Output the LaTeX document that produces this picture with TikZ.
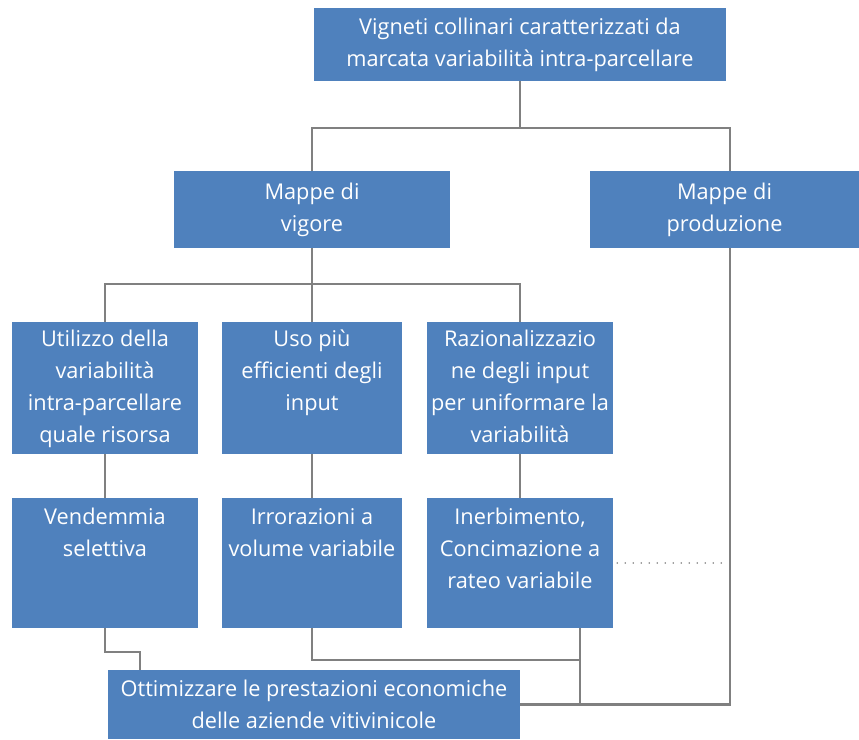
\documentclass[tikz,border=0pt]{standalone}
\usepackage{fontspec}
\setmainfont{Open Sans}
\usepackage{tikz}
\usetikzlibrary{positioning}

\definecolor{boxblue}{HTML}{4F81BD}
\definecolor{linegray}{HTML}{808080}

% testo allineato in alto nelle caselle
\newcommand{\righe}[1]{\begin{tabular}[t]{@{}c@{}}#1\end{tabular}}

\begin{document}
\begin{tikzpicture}[x=0.75pt, y=-0.75pt,
        box/.style={fill=boxblue, text=white, font=\fontsize{16.3}{24}\selectfont, inner sep=0pt},
        titolo/.style={box, align=center},
        azione/.style={box, inner ysep=3pt, text height=15.5pt, text depth=77.5pt},
        intervento/.style={box, inner ysep=3pt, text height=17pt, text depth=74.5pt},
        link/.style={draw=linegray, line width=2pt},
        puntini/.style={draw=linegray, line width=1.3pt, dash pattern=on 0pt off 6pt, line cap=round}]
        \useasboundingbox (0,0) rectangle (859,739);

        % Nodes
        \node[titolo, minimum width=309pt, minimum height=54.75pt] (top) at (520,44.5) {Vigneti collinari caratterizzati da\\marcata variabilità intra-parcellare};
        \node[titolo, minimum width=207pt, minimum height=57.75pt] (vigore) at (312,209.5) {Mappe di\\vigore};
        \node[titolo, minimum width=201.75pt, minimum height=57.75pt] (produz) at (724.5,209.5) {Mappe di\\produzione};

        \node[azione, minimum width=139.5pt] (util) at (105,388) {\righe{Utilizzo della\\variabilità\\intra-parcellare\\quale risorsa}};
        \node[azione, minimum width=135pt] (uso) at (312,388) {\righe{Uso più\\efficienti degli\\input}};
        \node[azione, minimum width=139.5pt] (raz) at (520,388) {\righe{Razionalizzazio\\ne degli input\\per uniformare la\\variabilità}};

        \node[intervento, minimum width=139.5pt] (vend) at (105,563) {\righe{Vendemmia\\selettiva}};
        \node[intervento, minimum width=135pt] (irror) at (312,563) {\righe{Irrorazioni a\\volume variabile}};
        \node[intervento, minimum width=139.5pt] (inerb) at (520,563) {\righe{Inerbimento,\\Concimazione a\\rateo variabile}};

        \node[titolo, minimum width=309pt, minimum height=51.75pt] (ottim) at (314,704.5) {Ottimizzare le prestazioni economiche\\delle aziende vitivinicole};

        % Junctions
        \coordinate (rtop) at (730,128);
        \coordinate (hub) at (312,284);
        \coordinate (k1) at (140,652);
        \coordinate (k2) at (580,660);

        % Lines
        \draw[link] (top) -- (top |- rtop);
        \draw[link] (vigore) |- (rtop) -- (rtop |- produz.north);
        \draw[link] (rtop |- produz.south) |- (ottim.east);
        \draw[link] (vigore) -- (uso);
        \draw[link] (util) |- (hub) -| (raz);
        \draw[link] (util) -- (vend);
        \draw[link] (uso) -- (irror);
        \draw[link] (raz) -- (inerb);
        \draw[link] (vend) |- (k1) -- (k1 |- ottim.north);
        \draw[link] (irror) |- (k2);
        \draw[link] (inerb.south -| k2) -- (k2 |- ottim.east);
        \draw[puntini] ([xshift=3pt]inerb.east) -- ([xshift=-3pt]inerb.east -| rtop);
    \end{tikzpicture}
\end{document}
